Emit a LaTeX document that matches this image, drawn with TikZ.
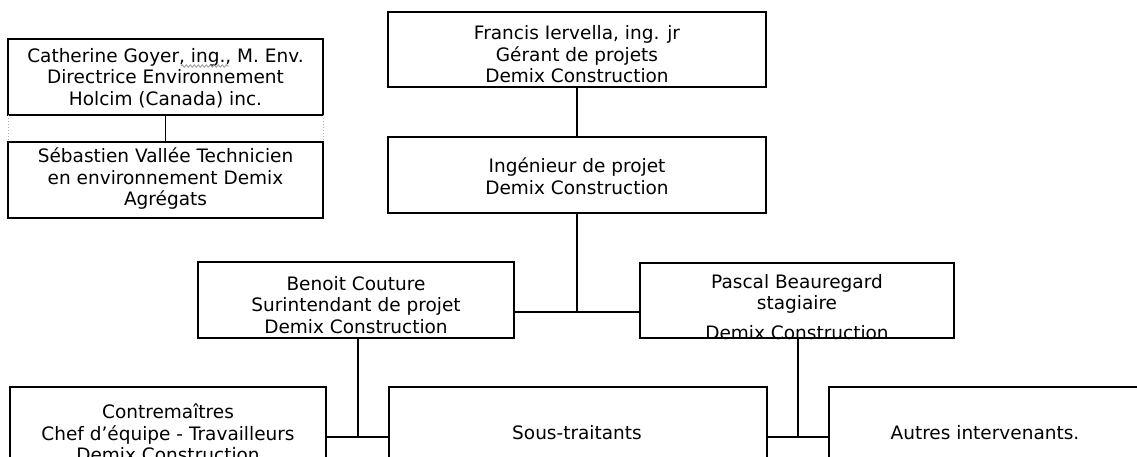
\documentclass[tikz,border=0pt]{standalone}
\usepackage{fontspec}
\setmainfont{DejaVu Sans}
\usetikzlibrary{calc,decorations.pathmorphing}
\begin{document}
\begin{tikzpicture}[x=1pt,y=-1pt,
  box/.style={draw=black, line width=2.4pt, rectangle, inner sep=0pt, outer sep=0pt, anchor=north west},
  txt/.style={align=center, font=\fontsize{18.5}{21.5}\selectfont, inner sep=0pt},
  vline/.style={line width=1.5pt},
  hline/.style={line width=2.4pt},
  dotside/.style={gray!60, dotted, line width=1pt},
  squiggle/.style={gray!80, line width=0.8pt, decorate, decoration={snake, amplitude=1.2pt, segment length=4pt}}]
\useasboundingbox (0,0) rectangle (1137,457);
\fill[white] (0,0) rectangle (1137,457);
\clip (0,0) rectangle (1137,457);
% boxes
\node[box, minimum width=315pt, minimum height=76pt] (c) at (8,39) {};
\node[box, minimum width=315pt, minimum height=76pt] (s) at (8,142) {};
\node[box, minimum width=378pt, minimum height=75pt] (f) at (388,12) {};
\node[box, minimum width=378pt, minimum height=76pt] (i) at (388,137) {};
\node[box, minimum width=316pt, minimum height=76pt] (b) at (198,262) {};
\node[box, minimum width=314pt, minimum height=75pt] (p) at (640,263) {};
\node[box, minimum width=316pt, minimum height=120pt] (ct) at (10,387) {};
\node[box, minimum width=378pt, minimum height=120pt] (st) at (389,387) {};
\node[box, minimum width=400pt, minimum height=120pt] (au) at (829,387) {};
% texts
\node[txt] (cT) at ($(c.center)+(0,1)$) {Catherine Goyer, ing., M. Env.\\Directrice Environnement\\Holcim (Canada) inc.};
\node[txt] (sT) at ($(s.center)+(0,-1)$) {Sébastien Vallée Technicien\\en environnement Demix\\Agrégats};
\node[txt] (fT) at ($(f.center)+(0,5)$) {Francis Iervella, ing. jr\\Gérant de projets\\Demix Construction};
\node[txt] (iT) at ($(i.center)+(0,1)$) {Ingénieur de projet\\Demix Construction};
\node[txt] (bT) at ($(b.center)+(0,5)$) {Benoit Couture\\Surintendant de projet\\Demix Construction};
\node[txt] (pT1) at ($(p.center)+(0,-17)$) {Pascal Beauregard};
\node[txt] (pT2) at ($(p.center)+(0,4)$) {stagiaire};
\node[txt] (pT3) at ($(p.center)+(0,32)$) {Demix Construction};
\node[txt] (ctT) at (168,433) {Contremaîtres\\Chef d’équipe - Travailleurs\\Demix Construction};
\node[txt] (stT) at (577,433) {Sous-traitants};
\node[txt] (auT) at (985,433) {Autres intervenants.};
% spell-check squiggle
\draw[squiggle] (181,66) -- (229,66);
% side dotted lines
\draw[dotside] (c.south west) -- (s.north west);
\draw[dotside] (c.south east) -- (s.north east);
% connectors
\coordinate (j1) at (577,312);
\coordinate (j2) at (358,437);
\coordinate (j3) at (798,437);
\draw[vline] (c.south) -- (s.north);
\draw[vline] (f.south) -- (i.north);
\draw[vline] (i.south) -- (i.south |- j1);
\draw[hline] (b.east |- j1) -- (p.west |- j1);
\draw[vline] (b.south -| j2) -- (j2);
\draw[hline] (ct.east |- j2) -- (st.west |- j2);
\draw[vline] (p.south -| j3) -- (j3);
\draw[hline] (st.east |- j3) -- (au.west |- j3);
\end{tikzpicture}
\end{document}
